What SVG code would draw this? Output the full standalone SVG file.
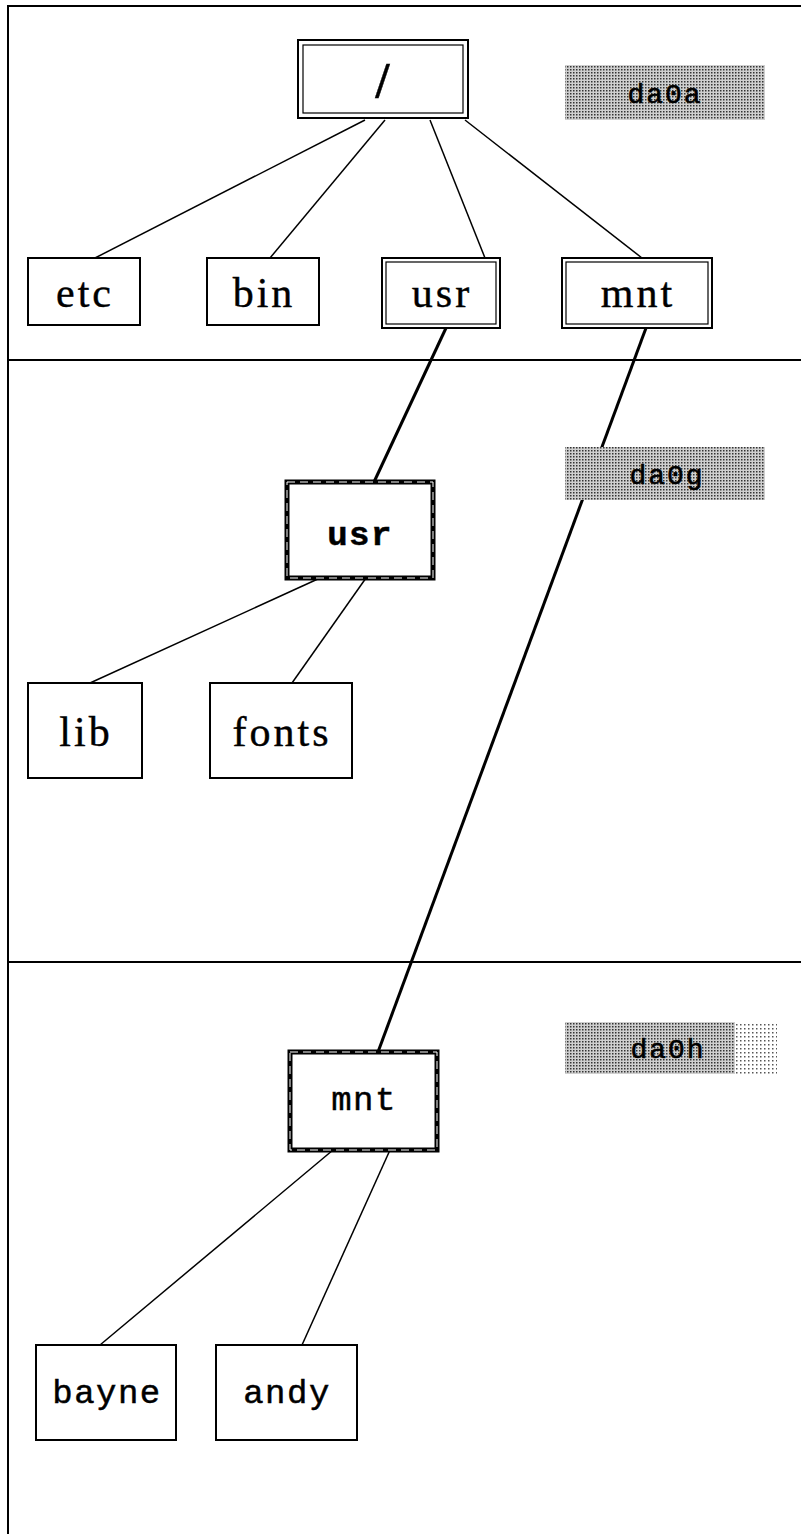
<svg xmlns="http://www.w3.org/2000/svg" width="801" height="1534" viewBox="0 0 801 1534">
<style>
.frame{stroke:#000;stroke-width:2;fill:none}
.box{fill:#fff;stroke:#000;stroke-width:2}
.inner{fill:none;stroke:#000;stroke-width:1.2}
.thick{fill:#fff;stroke:#000;stroke-width:5}
.gap{fill:none;stroke:#fff;stroke-width:1;stroke-dasharray:8 5}
.edge{stroke:#000;stroke-width:1.5;fill:none}
.edgeb{stroke:#000;stroke-width:3;fill:none}
.rm{font-family:"Liberation Serif","DejaVu Serif",serif;font-size:42px;letter-spacing:3px;text-anchor:middle;fill:#000;stroke:#000;stroke-width:0.4}
.tt{font-family:"Liberation Mono","DejaVu Sans Mono",monospace;font-size:34px;letter-spacing:1.5px;text-anchor:middle;fill:#000;stroke:#000;stroke-width:0.5}
.lbl{font-family:"Liberation Mono","DejaVu Sans Mono",monospace;font-size:28px;letter-spacing:2px;text-anchor:middle;fill:#000;stroke:#000;stroke-width:0.6}
</style>
<defs>
<pattern id="dots" width="3" height="3" patternUnits="userSpaceOnUse">
<rect width="3" height="3" fill="#cfcfcf"/>
<rect x="0" y="0" width="1.5" height="1.5" fill="#333"/>
</pattern>
<pattern id="dotsl" width="4" height="4" patternUnits="userSpaceOnUse">
<rect width="4" height="4" fill="#fff"/>
<rect x="0" y="0" width="1.5" height="1.5" fill="#555"/>
</pattern>
</defs>
<rect width="801" height="1534" fill="#fff"/>
<g id="frame">
<path class="frame" d="M8,1534 V6 H801"/>
<line class="frame" x1="8" y1="360" x2="801" y2="360"/>
<line class="frame" x1="8" y1="962" x2="801" y2="962"/>
</g>
<g id="connectors">
<line class="edge" x1="365" y1="120" x2="95" y2="258"/>
<line class="edge" x1="385" y1="120" x2="270" y2="258"/>
<line class="edge" x1="430" y1="120" x2="485" y2="258"/>
<line class="edge" x1="465" y1="120" x2="642" y2="258"/>
<line class="edgeb" x1="446" y1="328" x2="374" y2="482"/>
<line class="edgeb" x1="646" y1="328" x2="378" y2="1052"/>
<line class="edge" x1="320" y1="578" x2="90" y2="683"/>
<line class="edge" x1="366" y1="578" x2="292" y2="683"/>
<line class="edge" x1="333" y1="1150" x2="100" y2="1345"/>
<line class="edge" x1="390" y1="1150" x2="302" y2="1345"/>
</g>
<g id="label-da0a">
<rect x="565" y="65" width="200" height="55" fill="url(#dots)"/>
<text class="lbl" x="665" y="103">da0a</text>
</g>
<g id="label-da0g">
<rect x="565" y="447" width="200" height="53" fill="url(#dots)"/>
<text class="lbl" x="667" y="484">da0g</text>
</g>
<g id="label-da0h">
<rect x="565" y="1022" width="170" height="52" fill="url(#dots)"/>
<rect x="735" y="1022" width="42" height="52" fill="url(#dotsl)"/>
<text class="lbl" x="668" y="1058">da0h</text>
</g>
<g id="node-root">
<rect class="box" x="298" y="40" width="170" height="78"/>
<rect class="inner" x="303" y="45" width="160" height="68"/>
<text class="rm" x="384" y="97" style="font-size:50px;font-weight:bold">/</text>
</g>
<g id="node-etc">
<rect class="box" x="28" y="258" width="112" height="67"/>
<text class="rm" x="85" y="307">etc</text>
</g>
<g id="node-bin">
<rect class="box" x="207" y="258" width="112" height="67"/>
<text class="rm" x="264" y="307">bin</text>
</g>
<g id="node-usr-top">
<rect class="box" x="382" y="258" width="118" height="70"/>
<rect class="inner" x="386" y="262" width="110" height="62"/>
<text class="rm" x="442" y="307">usr</text>
</g>
<g id="node-mnt-top">
<rect class="box" x="562" y="258" width="150" height="70"/>
<rect class="inner" x="566" y="262" width="142" height="62"/>
<text class="rm" x="638" y="307">mnt</text>
</g>
<g id="node-usr">
<rect class="thick" x="287" y="482" width="146" height="96"/>
<rect class="gap" x="287" y="482" width="146" height="96"/>
<text class="tt" x="360" y="545" style="font-weight:bold">usr</text>
</g>
<g id="node-lib">
<rect class="box" x="28" y="683" width="114" height="95"/>
<text class="rm" x="86" y="746">lib</text>
</g>
<g id="node-fonts">
<rect class="box" x="210" y="683" width="142" height="95"/>
<text class="rm" x="282" y="746">fonts</text>
</g>
<g id="node-mnt">
<rect class="thick" x="290" y="1052" width="147" height="98"/>
<rect class="gap" x="290" y="1052" width="147" height="98"/>
<text class="tt" x="364" y="1110">mnt</text>
</g>
<g id="node-bayne">
<rect class="box" x="36" y="1345" width="140" height="95"/>
<text class="tt" x="107" y="1403">bayne</text>
</g>
<g id="node-andy">
<rect class="box" x="216" y="1345" width="141" height="95"/>
<text class="tt" x="287" y="1403">andy</text>
</g>
</svg>
